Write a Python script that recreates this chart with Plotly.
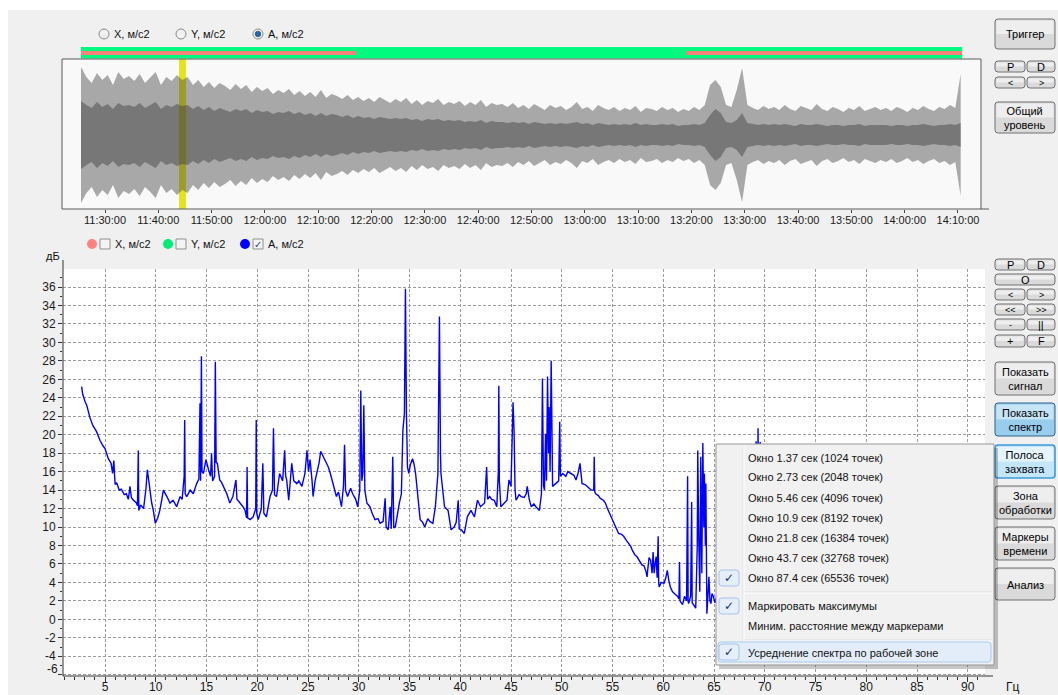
import plotly.graph_objects as go
import pandas as pd

W, H = 1058, 695
FONT = "Liberation Sans, Arial, sans-serif"

# ------------------------------------------------------------------ data
DAY = "2021-06-01 "
WAVE_START = DAY + "11:25:30"          # first sample of the time signal, 1 value per minute
# peak amplitude of the signal (light gray envelope), arbitrary units
wave_light = [
    68, 58, 52, 62, 55, 60, 50, 63, 56, 59,
    54, 61, 52, 57, 63, 50, 58, 54, 60, 55,
    58, 50, 55, 48, 53, 47, 52, 49, 45, 51,
    46, 50, 43, 48, 44, 47, 41, 45, 42, 46,
    40, 44, 39, 43, 38, 45, 37, 41, 39, 36,
    40, 35, 38, 34, 37, 33, 38, 35, 32, 36,
    33, 37, 31, 35, 30, 34, 32, 36, 30, 33,
    31, 34, 29, 33, 30, 35, 28, 32, 30, 31,
    28, 32, 27, 30, 26, 31, 28, 25, 30, 27,
    29, 25, 28, 33, 26, 28, 24, 30, 27, 25,
    28, 24, 27, 25, 29, 23, 27, 26, 24, 28,
    25, 27, 23, 26, 24, 28, 25, 30, 50, 55,
    48, 30, 28, 45, 67, 30, 27, 25, 29, 26,
    28, 25, 30, 26, 24, 29, 27, 25, 31, 26,
    24, 28, 26, 23, 27, 25, 29, 24, 26, 28,
    25, 27, 24, 28, 26, 23, 27, 25, 29, 26,
    24, 28, 26, 30, 27, 61,
]
# RMS-like inner envelope (dark gray)
wave_dark = [
    34, 30, 27, 33, 28, 31, 26, 32, 29, 30,
    28, 32, 27, 30, 33, 26, 30, 28, 31, 29,
    30, 26, 29, 25, 28, 24, 27, 25, 23, 26,
    24, 26, 22, 25, 23, 24, 21, 23, 22, 24,
    21, 23, 20, 22, 19, 22, 19, 21, 20, 18,
    20, 17, 19, 17, 18, 16, 18, 17, 16, 17,
    16, 17, 15, 16, 14, 16, 15, 16, 14, 15,
    14, 15, 13, 14, 13, 15, 12, 14, 13, 13,
    12, 13, 12, 13, 11, 13, 12, 11, 12, 11,
    12, 11, 12, 13, 11, 12, 10, 12, 11, 10,
    11, 10, 11, 10, 12, 10, 11, 10, 10, 11,
    10, 11, 9, 10, 10, 11, 10, 12, 20, 26,
    22, 13, 12, 15, 22, 12, 11, 10, 11, 10,
    11, 10, 11, 10, 9, 11, 10, 10, 11, 10,
    9, 10, 10, 9, 10, 10, 11, 9, 10, 10,
    10, 10, 9, 10, 10, 9, 10, 10, 11, 10,
    9, 10, 10, 11, 10, 12,
]
time_ticks = ["11:30:00", "11:40:00", "11:50:00", "12:00:00", "12:10:00", "12:20:00",
              "12:30:00", "12:40:00", "12:50:00", "13:00:00", "13:10:00", "13:20:00",
              "13:30:00", "13:40:00", "13:50:00", "14:00:00", "14:10:00"]
time_range = (DAY + "11:21:56", DAY + "14:14:19")
work_zone = (DAY + "11:25:30", DAY + "14:10:46")            # green bar
red_zones = [(DAY + "11:25:30", DAY + "12:17:05"),
             (DAY + "13:19:00", DAY + "14:10:46")]           # red stripes
yellow_window = (DAY + "11:43:53", DAY + "11:45:11")

# spectrum of A, dB vs Hz
spec_hz = [
    2.7, 2.8, 3.03, 3.2, 3.5, 3.8, 4.18, 4.5, 4.8, 5.0,
    5.33, 5.6, 5.75, 5.8, 5.87, 5.95, 6.0, 6.15, 6.4, 6.6,
    6.9, 7.1, 7.3, 7.46, 7.6, 7.8, 8.1, 8.2, 8.28, 8.33,
    8.5, 8.8, 9.04, 9.17, 9.3, 9.43, 9.6, 9.76, 9.96, 10.2,
    10.4, 10.6, 10.75, 11.1, 11.4, 11.7, 12.06, 12.4, 12.6, 12.8,
    12.85, 12.9, 13.05, 13.4, 13.7, 14.03, 14.25, 14.36, 14.42, 14.5,
    14.56, 14.7, 14.95, 15.2, 15.4, 15.5, 15.6, 15.8, 15.87, 15.95,
    16.07, 16.3, 16.5, 16.66, 17.0, 17.3, 17.6, 17.9, 18.0, 18.3,
    18.6, 18.8, 18.95, 19.0, 19.05, 19.3, 19.6, 19.85, 19.9, 19.95,
    20.1, 20.4, 20.55, 20.65, 20.9, 21.26, 21.5, 21.6, 21.7, 21.9,
    22.2, 22.5, 22.7, 22.8, 22.9, 23.1, 23.4, 23.6, 23.9, 24.1,
    24.4, 24.7, 24.9, 25.05, 25.2, 25.4, 25.5, 25.7, 25.85, 26.1,
    26.25, 26.5, 26.7, 27.0, 27.2, 27.5, 27.8, 28.0, 28.3, 28.5,
    28.6, 28.7, 28.9, 29.2, 29.4, 29.7, 29.9, 30.1, 30.2, 30.3,
    30.4, 30.5, 30.6, 30.8, 31.1, 31.35, 31.6, 31.9, 32.1, 32.4,
    32.6, 32.7, 32.9, 33.1, 33.2, 33.35, 33.45, 33.6, 33.9, 34.0,
    34.2, 34.35, 34.5, 34.6, 34.7, 34.8, 34.93, 35.1, 35.3, 35.45,
    35.6, 35.8, 36.05, 36.3, 36.5, 36.8, 37.0, 37.3, 37.55, 37.8,
    37.88, 37.95, 38.05, 38.1, 38.45, 38.8, 39.1, 39.4, 39.6, 39.8,
    39.9, 40.1, 40.4, 40.7, 41.05, 41.4, 41.7, 42.0, 42.4, 42.6,
    42.7, 42.9, 43.1, 43.35, 43.6, 43.75, 43.8, 43.85, 44.0, 44.3,
    44.6, 44.8, 45.0, 45.2, 45.3, 45.4, 45.5, 45.8, 46.0, 46.3,
    46.5, 46.6, 46.8, 47.0, 47.25, 47.45, 47.8, 48.0, 48.1, 48.2,
    48.3, 48.4, 48.5, 48.6, 48.7, 48.76, 48.85, 48.96, 49.05, 49.1,
    49.4, 49.7, 49.8, 49.87, 50.1, 50.4, 50.6, 50.9, 51.2, 51.4,
    51.6, 51.8, 51.9, 52.0, 52.3, 52.5, 52.7, 52.9, 53.15, 53.2,
    53.25, 53.35, 53.6, 53.8, 54.1, 54.3, 54.5, 54.7, 54.9, 55.15,
    55.4, 55.6, 55.9, 56.1, 56.4, 56.6, 56.8, 56.95, 57.2, 57.4,
    57.7, 57.9, 58.1, 58.3, 58.4, 58.6, 58.75, 58.9, 59.0, 59.1,
    59.2, 59.3, 59.4, 59.5, 59.55, 59.6, 59.8, 60.07, 60.25, 60.4,
    60.55, 60.7, 60.9, 61.05, 61.2, 61.4, 61.55, 61.6, 61.65, 61.9,
    62.1, 62.3, 62.4, 62.45, 62.5, 62.7, 62.8, 62.85, 63.0, 63.2,
    63.35, 63.4, 63.5, 63.6, 63.7, 63.8, 63.9, 64.0, 64.05, 64.15,
    64.2, 64.3, 64.4, 64.5, 64.6, 64.7, 64.8, 64.93, 65.1, 65.3,
    66.0, 67.0, 68.0, 68.9, 69.15, 69.25, 69.34, 69.45, 69.55, 69.7,
    70.5,
]
spec_db = [
    25.2, 24.4, 23.6, 23.2, 21.9, 21.0, 20.3, 19.4, 18.8, 18.5,
    17.4, 16.9, 15.8, 16.8, 17.2, 15.5, 14.6, 14.8, 14.0, 14.1,
    13.5, 13.6, 13.0, 14.4, 13.2, 12.9, 12.6, 12.3, 18.3, 11.8,
    12.4, 12.0, 14.2, 16.2, 15.0, 14.0, 12.6, 11.8, 10.4, 11.0,
    11.8, 13.0, 14.0, 13.3, 12.6, 12.9, 12.2, 13.3, 13.0, 15.5,
    21.6, 13.6, 13.3, 14.0, 13.6, 14.7, 15.2, 23.4, 15.0, 28.5,
    16.0, 15.8, 17.3, 16.2, 15.5, 18.0, 15.0, 15.5, 27.9, 17.0,
    16.9, 15.1, 14.8, 14.4, 13.6, 12.6, 13.3, 15.1, 13.0, 12.6,
    12.2, 11.8, 11.0, 16.5, 11.0, 10.8, 11.1, 12.0, 21.6, 11.5,
    10.8, 12.0, 16.9, 11.5, 11.1, 13.3, 14.0, 20.7, 13.5, 13.3,
    15.8, 15.0, 18.3, 15.5, 15.1, 12.9, 16.9, 15.0, 14.7, 15.0,
    14.4, 15.8, 18.3, 16.0, 17.3, 15.0, 13.3, 15.0, 15.8, 17.0,
    18.2, 17.6, 17.3, 16.5, 15.8, 14.4, 13.3, 13.8, 12.2, 14.5,
    18.9, 14.0, 13.3, 14.2, 13.6, 13.0, 12.2, 14.0, 24.8, 15.0,
    15.8, 23.2, 14.0, 12.6, 12.2, 11.4, 10.8, 10.9, 10.4, 10.6,
    13.1, 10.0, 9.7, 12.2, 9.8, 17.6, 9.9, 10.0, 12.2, 12.6,
    13.6, 20.5, 22.3, 35.8, 22.3, 16.5, 15.8, 16.8, 17.4, 16.8,
    15.8, 13.3, 10.8, 10.5, 10.0, 10.9, 10.6, 10.4, 12.2, 15.8,
    30.6, 32.8, 18.0, 15.8, 12.2, 11.8, 9.7, 10.0, 10.5, 12.9,
    9.8, 9.7, 9.3, 11.1, 11.8, 11.1, 12.9, 12.2, 12.6, 16.5,
    13.0, 13.3, 13.0, 12.9, 12.2, 16.0, 25.3, 15.0, 12.2, 12.6,
    12.9, 15.1, 14.4, 23.5, 20.5, 14.0, 12.9, 13.5, 13.3, 13.2,
    13.6, 14.4, 13.0, 12.2, 12.5, 12.2, 11.8, 13.6, 26.1, 14.5,
    14.0, 20.1, 15.0, 26.3, 18.0, 23.0, 16.0, 28.0, 20.0, 14.4,
    14.7, 15.0, 21.4, 15.5, 15.8, 15.5, 16.0, 15.8, 15.6, 15.1,
    15.8, 16.9, 15.5, 14.7, 14.6, 14.4, 14.2, 14.0, 14.0, 17.6,
    13.8, 13.6, 13.4, 13.1, 12.9, 12.6, 12.0, 11.5, 11.0, 10.4,
    9.8, 9.3, 9.2, 9.0, 8.5, 8.2, 7.9, 7.5, 7.0, 6.8,
    6.3, 5.9, 5.8, 5.2, 4.6, 6.7, 6.4, 5.0, 7.3, 5.0,
    6.0, 6.8, 4.5, 9.0, 4.0, 3.5, 4.0, 3.9, 4.5, 5.3,
    4.2, 3.5, 3.0, 2.8, 2.7, 2.5, 2.2, 6.2, 2.0, 1.6,
    2.5, 2.0, 15.5, 2.0, 1.7, 2.5, 12.7, 1.8, 1.5, 1.2,
    8.0, 18.3, 8.6, 3.0, 17.6, 5.0, 19.1, 10.0, 15.8, 8.0,
    14.7, 0.6, 2.5, 4.6, 2.0, 1.7, 2.8, 2.5, 1.8, 2.6,
    2.0, 2.5, 3.0, 4.0, 19.3, 5.0, 20.7, 5.0, 19.2, 4.0,
    3.5,
]
freq_ticks = list(range(5, 95, 5))
db_ticks = list(range(-6, 38, 2))
channel_labels = ["X, м/с2", "Y, м/с2", "A, м/с2"]
channel_colors = ["#ff8080", "#00ee78", "#0000ff"]
menu_items = ["Окно 1.37 сек (1024 точек)", "Окно 2.73 сек (2048 точек)",
              "Окно 5.46 сек (4096 точек)", "Окно 10.9 сек (8192 точек)",
              "Окно 21.8 сек (16384 точек)", "Окно 43.7 сек (32768 точек)",
              "Окно 87.4 сек (65536 точек)"]
menu_items2 = ["Маркировать максимумы", "Миним. расстояние между маркерами"]
menu_items3 = ["Усреднение спектра по рабочей зоне"]

# ------------------------------------------------------------------ helpers
def px(x):
    return x / W


def py(y):
    return 1 - y / H


def P(x, y):
    return f"{px(x):.5f},{py(y):.5f}"


shapes = []
annots = []


def rect(x0, y0, x1, y1, fill, line=None, lw=1, layer="above"):
    shapes.append(dict(type="rect", xref="paper", yref="paper", x0=px(x0), x1=px(x1),
                       y0=py(y1), y1=py(y0), fillcolor=fill, layer=layer,
                       line=dict(color=line or "rgba(0,0,0,0)", width=lw if line else 0)))


def rrect(x0, y0, x1, y1, r, fill, line=None, lw=1):
    path = (f"M{P(x0 + r, y0)} L{P(x1 - r, y0)} Q{P(x1, y0)} {P(x1, y0 + r)} "
            f"L{P(x1, y1 - r)} Q{P(x1, y1)} {P(x1 - r, y1)} L{P(x0 + r, y1)} "
            f"Q{P(x0, y1)} {P(x0, y1 - r)} L{P(x0, y0 + r)} Q{P(x0, y0)} {P(x0 + r, y0)} Z")
    shapes.append(dict(type="path", path=path, xref="paper", yref="paper",
                       fillcolor=fill, layer="above",
                       line=dict(color=line or "rgba(0,0,0,0)", width=lw if line else 0)))


def hline(x0, x1, y, color, lw=1):
    shapes.append(dict(type="line", xref="paper", yref="paper", x0=px(x0), x1=px(x1),
                       y0=py(y), y1=py(y), line=dict(color=color, width=lw), layer="above"))


def vline(x, y0, y1, color, lw=1):
    shapes.append(dict(type="line", xref="paper", yref="paper", x0=px(x), x1=px(x),
                       y0=py(y0), y1=py(y1), line=dict(color=color, width=lw), layer="above"))


def circle(x0, y0, x1, y1, fill, line=None, lw=1):
    shapes.append(dict(type="circle", xref="paper", yref="paper", x0=px(x0), x1=px(x1),
                       y0=py(y1), y1=py(y0), fillcolor=fill, layer="above",
                       line=dict(color=line or "rgba(0,0,0,0)", width=lw if line else 0)))


def text(x, y, s, size=11, anchor="left", color="#111111", family=FONT):
    annots.append(dict(x=px(x), y=py(y), xref="paper", yref="paper", text=s,
                       showarrow=False, xanchor=anchor, yanchor="middle",
                       font=dict(family=family, size=size, color=color)))


def button(x0, y0, x1, y1, label, style="normal", size=11):
    if style == "pressed":
        rrect(x0, y0, x1, y1, 3, "#98cdec", "#2c628b")
        rect(x0 + 1.5, y0 + 1.5, x1 - 1.5, (y0 + y1) / 2, "#c6e4f5")
    elif style == "hover":
        rrect(x0, y0, x1, y1, 3, "#c4e6fa", "#3c9ad8", 1.6)
        rect(x0 + 2, y0 + 2, x1 - 2, (y0 + y1) / 2, "#e6f5fd")
    else:
        rrect(x0, y0, x1, y1, 3, "#dadada", "#707070")
        rect(x0 + 1.5, y0 + 1.5, x1 - 1.5, (y0 + y1) / 2, "#eeeeee")
    text((x0 + x1) / 2, (y0 + y1) / 2 + 0.5, label, size=size, anchor="center", color="#000000")


# ------------------------------------------------------------------ figure
fig = go.Figure()

# yellow cursor window sits under the (semi-transparent) signal -> darkened where they overlap
rect(0, 0, W, 10, "#ffffff", layer="below")
rect(0, 0, 8, H, "#ffffff", layer="below")
rect(62, 59, 981, 209, "#f9f9f9", layer="below")
rect(63, 269, 985, 676, "#ffffff", layer="below")
shapes.append(dict(type="rect", xref="x2", yref="paper", x0=yellow_window[0], x1=yellow_window[1],
                   y0=py(209), y1=py(59), fillcolor="#e4e41c",
                   line=dict(width=0), layer="below"))

t_light = list(pd.date_range(WAVE_START, periods=len(wave_light), freq="1min"))
t_dark = list(pd.date_range(WAVE_START, periods=len(wave_dark), freq="1min"))
fig.add_trace(go.Scatter(
    x=t_light + t_light[::-1], y=wave_light + [-v for v in wave_light[::-1]],
    fill="toself", fillcolor="rgba(60,60,60,0.43)", mode="lines",
    line=dict(width=0), xaxis="x2", yaxis="y2",
    hoverinfo="skip", showlegend=False))
fig.add_trace(go.Scatter(
    x=t_dark + t_dark[::-1], y=wave_dark + [-v for v in wave_dark[::-1]],
    fill="toself", fillcolor="rgba(60,60,60,0.45)", mode="lines",
    line=dict(width=0), xaxis="x2", yaxis="y2",
    hoverinfo="skip", showlegend=False))

n = min(len(spec_hz), len(spec_db))
fig.add_trace(go.Scatter(x=spec_hz[:n], y=spec_db[:n], mode="lines",
                         line=dict(color="#0000ff", width=1.4),
                         xaxis="x", yaxis="y", showlegend=False, hoverinfo="skip"))

# ---- top chart decorations
shapes.append(dict(type="rect", xref="x2", yref="paper", x0=work_zone[0], x1=work_zone[1],
                   y0=py(58.5), y1=py(47), fillcolor="#00fa7d", line=dict(width=0), layer="above"))
for a, b in red_zones:
    shapes.append(dict(type="rect", xref="x2", yref="paper", x0=a, x1=b,
                       y0=py(55), y1=py(51), fillcolor="#f4817a", line=dict(width=0), layer="above"))
rect(62, 59, 981, 209, "rgba(0,0,0,0)", "#5a5a5a", 1)
hline(981, 989, 209, "#5a5a5a")

# radio buttons
for i, (cx, lab) in enumerate(zip([104, 181, 258], channel_labels)):
    circle(cx - 5, 29, cx + 5, 39, "#f2f2f2", "#8a8a8a")
    if i == 2:
        circle(cx - 2.8, 31.2, cx + 2.8, 36.8, "#2468a8", "#123a66", 0.6)
    text(cx + 8, 34, lab, 11)

# legend with check boxes under the time chart
for i, (cx, lab, col) in enumerate(zip([92, 168, 245], channel_labels, channel_colors)):
    circle(cx - 5, 239, cx + 5, 249, col)
    bx = cx + 8
    rect(bx, 239, bx + 10, 249, "#f4f4f4", "#8e8f8f")
    if i == 2:
        text(bx + 5, 244, "✓", 10, "center", "#2c3f8a", "DejaVu Sans")
    text(bx + 13, 244, lab, 11)

# ---- spectrum axes lines + labels
vline(63, 260, 676, "#333333")
hline(63, 993, 676, "#333333")
text(44, 256, "дБ", 11, "left")
text(1004, 687, "Гц", 12, "left")
text(60, 669, "-6", 12, "right", "#1a1a1a")

# ---- right side buttons
button(995, 19, 1055, 49, "Триггер")
button(995, 61, 1025, 72, "P", size=11)
button(1027, 61, 1055, 72, "D", size=11)
button(995, 77, 1025, 88, "<", size=9)
button(1027, 77, 1055, 88, ">", size=9)
button(995, 102, 1055, 133, "Общий<br>уровень")

button(995, 259, 1025, 270, "P")
button(1027, 259, 1055, 270, "D")
button(995, 274, 1055, 285, "O")
button(995, 289, 1025, 300, "<", size=9)
button(1027, 289, 1055, 300, ">", size=9)
button(995, 304, 1025, 315, "<<", size=9)
button(1027, 304, 1055, 315, ">>", size=9)
button(995, 319, 1025, 330, "-", size=9)
button(1027, 319, 1055, 330, "||", size=11)
button(995, 335, 1025, 347, "+", size=11)
button(1027, 335, 1055, 347, "F", size=11)
button(995, 362, 1055, 395, "Показать<br>сигнал")
button(995, 403, 1055, 436, "Показать<br>спектр", "pressed")
button(995, 445, 1055, 478, "Полоса<br>захвата", "hover")
button(995, 486, 1055, 519, "Зона<br>обработки")
button(995, 527, 1055, 560, "Маркеры<br>времени")
button(995, 568, 1055, 600, "Анализ")

# ---- context menu
rect(719, 448, 998, 669, "rgba(0,0,0,0.22)")
rect(716, 444, 994, 665, "#f1f1f1", "#979797")
vline(743, 446, 663, "#e2e3e3")
vline(744, 446, 663, "#ffffff")
hline(745, 992, 592, "#e0e0e0")
hline(745, 992, 593, "#ffffff")
hline(745, 992, 640, "#e0e0e0")
hline(745, 992, 641, "#ffffff")
rrect(718, 642, 991, 662, 3, "#e3edf9", "#a9caf1")
for cy in (578, 606, 652):
    rrect(719, cy - 8, 739, cy + 8, 3, "#e6eef9", "#a6c4e8")
    text(729, cy, "✓", 12, "center", "#1b2f7a", "DejaVu Sans")
for i, s in enumerate(menu_items):
    text(746, 457.5 + 20 * i, s, 11)
for i, s in enumerate(menu_items2):
    text(746, 605.5 + 20 * i, s, 11)
for s in menu_items3:
    text(746, 652.5, s, 11)

tickfont = dict(family=FONT, size=12, color="#1a1a1a")
fig.update_layout(
    width=W, height=H, autosize=False, template="none",
    margin=dict(l=0, r=0, t=0, b=0, pad=0),
    paper_bgcolor="#f0f0f0", plot_bgcolor="rgba(0,0,0,0)",
    showlegend=False,
    xaxis=dict(domain=[px(63), px(985)], range=[0.862, 91.7], anchor="y",
               tickmode="array", tickvals=freq_ticks, ticks="outside", ticklen=5,
               tickcolor="#333333", tickwidth=1, showgrid=True, gridcolor="#9c9c9c",
               griddash="3px,2px", gridwidth=1, zeroline=False, showline=False,
               tickfont=tickfont, automargin=False, fixedrange=True,
               ticklabelstandoff=-5,
               minor=dict(dtick=1, tick0=0, ticks="outside", ticklen=3,
                          tickcolor="#333333", showgrid=False)),
    yaxis=dict(domain=[py(676), py(269)], range=[-6.14, 37.95], anchor="x",
               tickmode="array", tickvals=db_ticks,
               ticktext=["" if v == -6 else str(v) for v in db_ticks],
               ticks="outside", ticklen=4,
               tickcolor="#333333", showgrid=True, gridcolor="#9c9c9c",
               griddash="3px,2px", gridwidth=1, zeroline=False, showline=False,
               tickfont=tickfont, automargin=False, fixedrange=True,
               minor=dict(dtick=1, tick0=0, ticks="outside", ticklen=2,
                          tickcolor="#333333", showgrid=False)),
    xaxis2=dict(domain=[px(62), px(981)], type="date", range=list(time_range),
                anchor="y2", tickmode="array", tickvals=[DAY + s for s in time_ticks],
                ticktext=time_ticks, ticks="outside", ticklen=3, tickcolor="#444444",
                showgrid=False, zeroline=False, showline=False, automargin=False,
                ticklabelstandoff=-2,
                tickfont=dict(family=FONT, size=11, color="#1a1a1a"), fixedrange=True),
    yaxis2=dict(domain=[py(209), py(59)], range=[-74, 76], anchor="x2", visible=False,
                fixedrange=True),
    shapes=shapes, annotations=annots,
)

fig.write_html("out.html", config={"displayModeBar": False},
               post_script="document.body.style.margin='0';document.body.style.overflow='hidden';")
